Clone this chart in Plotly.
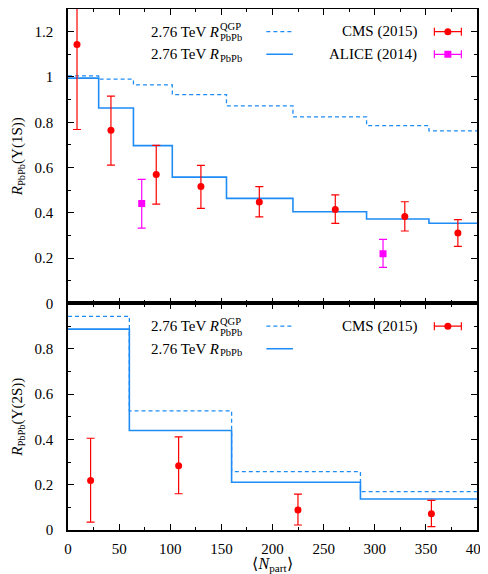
import plotly.graph_objects as go
from plotly.subplots import make_subplots

FONT = "Liberation Serif"
BLUE = "#1E8CF5"
RED = "#FF0000"
MAGENTA = "#FF00FF"

# ---- Upsilon(1S) panel ----
edges_1s = [0, 30, 64, 102, 155, 220, 292, 353, 400]
r_qgp_1s = [1.005, 0.990, 0.965, 0.922, 0.872, 0.824, 0.785, 0.762]
r_pbpb_1s = [0.995, 0.863, 0.697, 0.558, 0.464, 0.405, 0.373, 0.354]
cms_npart_1s = [8.8, 42.0, 86.3, 130.0, 187.1, 261.4, 329.4, 381.3]
cms_r_1s = [1.143, 0.765, 0.569, 0.516, 0.448, 0.415, 0.384, 0.311]
cms_hi_1s = [1.52, 0.915, 0.698, 0.610, 0.516, 0.479, 0.449, 0.370]
cms_lo_1s = [0.768, 0.611, 0.439, 0.420, 0.382, 0.354, 0.320, 0.252]
alice_npart = [72.1, 308.1]
alice_r = [0.441, 0.220]
alice_hi = [0.548, 0.283]
alice_lo = [0.333, 0.159]

# ---- Upsilon(2S) panel ----
edges_2s = [0, 60, 160, 286, 400]
r_qgp_2s = [0.943, 0.526, 0.258, 0.169]
r_pbpb_2s = [0.887, 0.439, 0.211, 0.137]
cms_npart_2s = [22.1, 108.2, 224.9, 355.4]
cms_r_2s = [0.218, 0.284, 0.088, 0.072]
cms_hi_2s = [0.405, 0.411, 0.158, 0.131]
cms_lo_2s = [0.035, 0.160, 0.022, 0.015]

# legend layout (data units)
LEG_TEXT_X = 150      # right end of "2.76 TeV R"
LEG_LINE_X = [194, 220]
LEG_DATA_TEXT_X = 343.5
LEG_DATA_X = 371.5
LEG_DATA_HALF = 13.2

fig = make_subplots(rows=2, cols=1, shared_xaxes=True, vertical_spacing=0,
                    row_heights=[1.3, 1.0])


def step(edges, vals):
    return list(edges), list(vals) + [vals[-1]]


def add_panel(row, edges, qgp, pbpb, npart, r, hi, lo, extra=None):
    x, y = step(edges, qgp)
    fig.add_trace(go.Scatter(x=x, y=y, mode="lines", line_shape="hv",
                             line=dict(color=BLUE, width=1.3, dash="4px,3px"),
                             showlegend=False), row=row, col=1)
    x, y = step(edges, pbpb)
    fig.add_trace(go.Scatter(x=x, y=y, mode="lines", line_shape="hv",
                             line=dict(color=BLUE, width=1.6),
                             showlegend=False), row=row, col=1)
    if extra is not None:
        en, er, eh, el = extra
        fig.add_trace(go.Scatter(
            x=en, y=er, mode="markers",
            marker=dict(symbol="square", size=7, color=MAGENTA),
            error_y=dict(type="data", symmetric=False,
                         array=[h - v for h, v in zip(eh, er)],
                         arrayminus=[v - l for v, l in zip(er, el)],
                         color=MAGENTA, thickness=1.2, width=4),
            showlegend=False), row=row, col=1)
    fig.add_trace(go.Scatter(
        x=npart, y=r, mode="markers",
        marker=dict(symbol="circle", size=7, color=RED),
        error_y=dict(type="data", symmetric=False,
                     array=[h - v for h, v in zip(hi, r)],
                     arrayminus=[v - l for v, l in zip(r, lo)],
                     color=RED, thickness=1.2, width=4),
        showlegend=False), row=row, col=1)


add_panel(1, edges_1s, r_qgp_1s, r_pbpb_1s, cms_npart_1s, cms_r_1s,
          cms_hi_1s, cms_lo_1s,
          extra=(alice_npart, alice_r, alice_hi, alice_lo))
add_panel(2, edges_2s, r_qgp_2s, r_pbpb_2s, cms_npart_2s, cms_r_2s,
          cms_hi_2s, cms_lo_2s)

# ---- legends ----
legend_rows = {1: ("y", 1.2, 1.1, ["CMS (2015)", "ALICE (2014)"], [RED, MAGENTA], ["circle", "square"]),
               2: ("y2", 0.9, 0.8, ["CMS (2015)"], [RED], ["circle"])}

for row, (yref, y1, y2, labels, cols, syms) in legend_rows.items():
    xref = "x" if row == 1 else "x2"
    tf = dict(family=FONT, size=15, color="black")
    sf = dict(family=FONT, size=10.5, color="black")
    for yy in (y1, y2):
        fig.add_annotation(x=LEG_TEXT_X, y=yy, xref=xref, yref=yref,
                           text="2.76 TeV <i>R</i>", showarrow=False,
                           xanchor="right", yanchor="middle", font=tf)
    fig.add_annotation(x=LEG_TEXT_X, y=y1, xref=xref, yref=yref, text="QGP",
                       showarrow=False, xanchor="left", yanchor="middle",
                       yshift=5, xshift=-3, font=sf)
    for yy, ys in ((y1, -6), (y2, -4)):
        fig.add_annotation(x=LEG_TEXT_X, y=yy, xref=xref, yref=yref, text="PbPb",
                           showarrow=False, xanchor="left", yanchor="middle",
                           yshift=ys, xshift=-3, font=sf)
    fig.add_trace(go.Scatter(x=LEG_LINE_X, y=[y1, y1], mode="lines",
                             line=dict(color=BLUE, width=1.3, dash="4px,3px"),
                             showlegend=False), row=row, col=1)
    fig.add_trace(go.Scatter(x=LEG_LINE_X, y=[y2, y2], mode="lines",
                             line=dict(color=BLUE, width=1.6),
                             showlegend=False), row=row, col=1)
    for lab, c, s, yy in zip(labels, cols, syms, (y1, y2)):
        fig.add_annotation(x=LEG_DATA_TEXT_X, y=yy, xref=xref, yref=yref,
                           text=lab, showarrow=False, xanchor="right",
                           yanchor="middle", font=tf)
        fig.add_trace(go.Scatter(
            x=[LEG_DATA_X], y=[yy], mode="markers",
            marker=dict(symbol=s, size=7, color=c),
            error_x=dict(type="constant", value=LEG_DATA_HALF, color=c,
                         thickness=1.2, width=4),
            showlegend=False), row=row, col=1)

axis_common = dict(showline=True, linecolor="black", linewidth=1.5,
                   mirror="ticks", ticks="inside", ticklen=6, tickwidth=1,
                   tickcolor="black", showgrid=False, zeroline=False,
                   tickfont=dict(family=FONT, size=15, color="black"))

fig.update_xaxes(range=[0, 400], tick0=0, dtick=50,
                 minor=dict(ticks="inside", dtick=25, ticklen=3.5,
                            tickcolor="black", showgrid=False),
                 **axis_common)
fig.update_xaxes(showticklabels=False, row=1, col=1)
fig.update_xaxes(showticklabels=True, ticklabelstandoff=4,
                 ticklabeloverflow="allow", row=2, col=1,
                 title=dict(text="⟨<i>N</i><sub>part</sub>⟩",
                            font=dict(family=FONT, size=16, color="black"),
                            standoff=5))

fig.update_yaxes(range=[0, 1.3], tickmode="array",
                 tickvals=[0, 0.2, 0.4, 0.6, 0.8, 1.0, 1.2],
                 ticktext=["0", "0.2", "0.4", "0.6", "0.8", "1", "1.2"],
                 minor=dict(ticks="inside", tickmode="array",
                            tickvals=[0.1, 0.3, 0.5, 0.7, 0.9, 1.1],
                            ticklen=3.5, tickcolor="black", showgrid=False),
                 ticklabelstandoff=10,
                 title=dict(text="<i>R</i><sub>PbPb</sub>(Υ(1S))",
                            font=dict(family=FONT, size=15, color="black"),
                            standoff=8),
                 row=1, col=1, **axis_common)
fig.update_yaxes(range=[0, 1.0], tickmode="array",
                 tickvals=[0, 0.2, 0.4, 0.6, 0.8],
                 ticktext=["0", "0.2", "0.4", "0.6", "0.8"],
                 minor=dict(ticks="inside", tickmode="array",
                            tickvals=[0.1, 0.3, 0.5, 0.7, 0.9],
                            ticklen=3.5, tickcolor="black", showgrid=False),
                 ticklabelstandoff=10,
                 title=dict(text="<i>R</i><sub>PbPb</sub>(Υ(2S))",
                            font=dict(family=FONT, size=15, color="black"),
                            standoff=8),
                 row=2, col=1, **axis_common)

# the page body adds an 8px offset, so the figure is 8px smaller
fig.update_layout(width=480, height=566,
                  margin=dict(l=60, r=11, t=1, b=44, autoexpand=False),
                  plot_bgcolor="white", paper_bgcolor="white",
                  showlegend=False)

fig.write_html("out.html")
